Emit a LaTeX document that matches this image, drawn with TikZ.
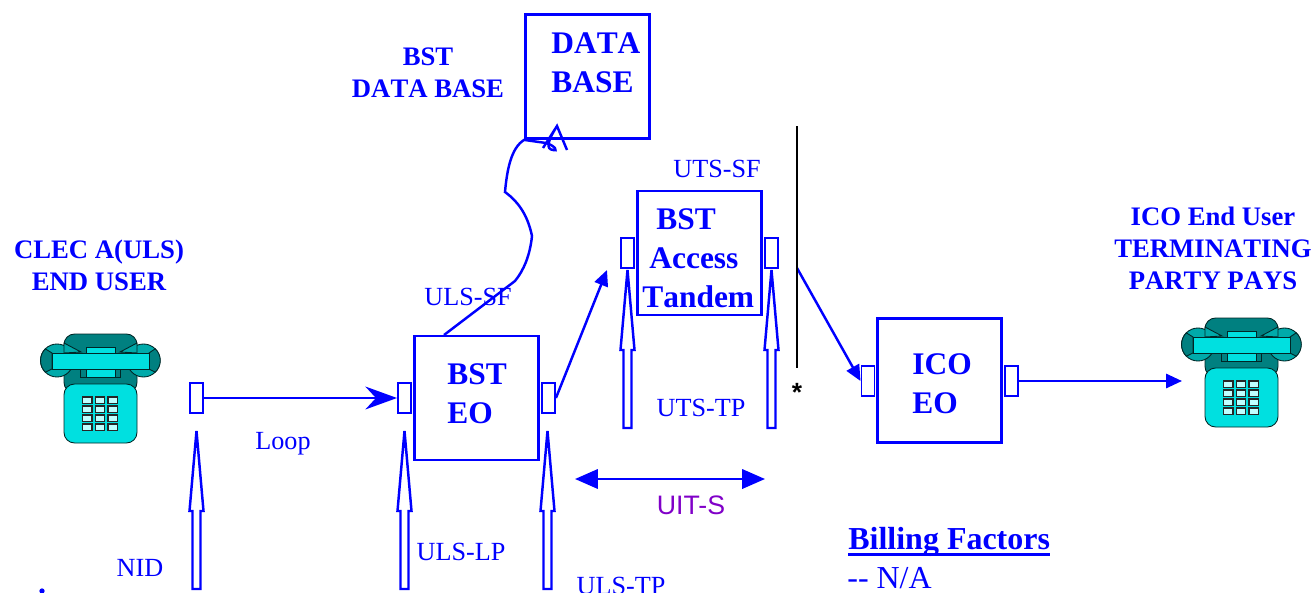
\documentclass[tikz,border=0pt]{standalone}
\usepackage{fontspec}
\setmainfont[Kerning=Off]{Liberation Serif}
\newfontfamily\uitfont{Liberation Sans}
\usetikzlibrary{arrows.meta}
\definecolor{linkblue}{RGB}{0,0,255}
\definecolor{phonecyan}{RGB}{0,224,224}
\definecolor{phonemid}{RGB}{0,170,170}
\definecolor{phonedark}{RGB}{0,128,128}
\definecolor{phonekey}{RGB}{190,255,255}
\definecolor{uitpurple}{RGB}{128,0,200}
\tikzset{
  officebox/.style={draw=linkblue, line width=1.6pt, minimum width=2.48cm, minimum height=2.48cm, inner sep=0pt},
  portbox/.style={draw=linkblue, fill=white, line width=1.1pt, minimum width=0.26cm, minimum height=0.59cm, inner sep=0pt},
  link/.style={draw=linkblue, line width=1.4pt},
  filledtip/.style={-{Stealth[length=9pt, width=8pt, inset=0pt]}},
  headtext/.style={text=linkblue, font=\bfseries\fontsize{15.2}{18.2}\selectfont, align=center, inner sep=0pt},
  boxtext/.style={text=linkblue, font=\bfseries\fontsize{17.9}{22.2}\selectfont, align=left, inner sep=0pt},
  smalltext/.style={text=linkblue, font=\fontsize{14.9}{18}\selectfont, inner sep=0pt},
  phoneline/.style={draw=black!70!phonedark, line width=0.5pt},
  uparrow/.pic={
    \draw[link] (0,0) -- (7,80) -- (4,80) -- (4,158) -- (-4,158) -- (-4,80) -- (-7,80) -- cycle;
  },
  phone/.pic={
    \draw[phoneline, fill=phonedark, rounded corners=6pt] (24,1) rectangle (97,60);
    \draw[phoneline, fill=phonemid] (17,27.5) circle (16.5);
    \draw[phoneline, fill=phonemid] (103.5,27.5) circle (16.5);
    \draw[phoneline, fill=phonemid] (24,10) -- (41,19) -- (24,20) -- cycle;
    \draw[phoneline, fill=phonemid] (97,10) -- (80,19) -- (97,20) -- cycle;
    \draw[phoneline, fill=phonedark] (12,20) -- (5.3,15.8) .. controls (-1,22) and (-1,33) .. (5.3,39.2) -- (12,36) -- cycle;
    \draw[phoneline, fill=phonedark] (109,20) -- (115.2,15.8) .. controls (122,22) and (122,33) .. (115.2,39.2) -- (109,36) -- cycle;
    \draw[phoneline, fill=phonecyan] (46,14) rectangle (75,44);
    \draw[phoneline, fill=phonecyan] (12,20) rectangle (109,36);
    \draw[phoneline, fill=phonedark] (40,36) rectangle (46,44);
    \draw[phoneline, fill=phonedark] (75,36) rectangle (80,44);
    \draw[phoneline, fill=phonecyan, rounded corners=6pt] (24,51) rectangle (97,110);
    \foreach \col in {0,1,2} {
      \foreach \row in {0,1,2,3} {
        \draw[draw=black!85, line width=0.7pt, fill=phonekey] (42.5+\col*12.7,64+\row*9) rectangle +(9.5,6.5);
      }
    }
  },
}
\begin{document}
\begin{tikzpicture}[x=0.02cm, y=-0.02cm]
    \useasboundingbox (0,0) rectangle (1312,592);
    \clip (0,0) rectangle (1312,592);
    % offices
    \node[officebox] (database) at (587.5,76.5) {};
    \node[officebox] (eo) at (476.5,398) {};
    \node[officebox] (tandem) at (699.5,253) {};
    \node[officebox] (icoeo) at (939.5,380.5) {};
    % ports
    \node[portbox] (nid) at (196.5,398) {};
    \node[portbox] (eoleft) at (404.5,398) {};
    \node[portbox] (eoright) at (548.5,398) {};
    \node[portbox] (tandemleft) at (627.5,253) {};
    \node[portbox] (tandemright) at (771.5,253) {};
    \node[portbox] (icoleft) at (868,381) {};
    \node[portbox] (icoright) at (1011.5,381) {};
    % phones
    \pic at (40,333) {phone};
    \pic at (1181,317) {phone};
    % hollow arrows
    \pic at (196.5,431) {uparrow};
    \pic at (404.5,431) {uparrow};
    \pic at (547.5,431) {uparrow};
    \pic at (627.5,270) {uparrow};
    \pic at (771.5,270) {uparrow};
    % free ends
    \coordinate (tandemin) at (607,270);
    \coordinate (tandemout) at (797,268);
    \coordinate (phonein) at (1182,381);
    \coordinate (uitl) at (575,479);
    \coordinate (uitr) at (765,479);
    \coordinate (wallt) at (797,126);
    \coordinate (wallb) at (797,368);
    % connectors
    \draw[link, -{Stealth[length=18pt, width=13pt, inset=6pt]}] (nid) -- (eoleft);
    \draw[link, filledtip] (eoright.east) -- (tandemin);
    \draw[link, filledtip] (tandemout) -- (icoleft.west);
    \draw[link, filledtip] (icoright) -- (phonein);
    \draw[link, {Stealth[length=13pt, width=11pt, inset=0pt]}-{Stealth[length=13pt, width=11pt, inset=0pt]}] (uitl) -- (uitr);
    \draw[black, line width=1.5pt] (wallt) -- (wallb);
    \draw[link] (444,335) -- (515,281)
      .. controls (524,270) and (530,255) .. (532,236)
      .. controls (528,217) and (520,203) .. (505,192)
      .. controls (507,170) and (511,148) .. (database.south west)
      -- (546,143) .. controls (556,146) and (558,152) .. (553,150)
      .. controls (546,149) and (547,142) .. (557,126) -- (567,150)
      (557,126) -- (543,148);
    % labels
    \node[headtext] (bstdbtext) at (428,73) {BST\\DATA BASE};
    \node[headtext] (cleca) at (99,265) {CLEC A(ULS)\\END USER};
    \node[headtext] (icouser) at (1213,248) {ICO End User\\TERMINATING\\PARTY PAYS};
    \node[boxtext, anchor=west] (dbtext) at (551,62.5) {DATA\\BASE};
    \node[boxtext, anchor=west] (eotext) at (447,393.5) {BST\\EO};
    \node[boxtext, anchor=west] (tandemtext) at (642,258.5) {\hspace*{8pt}BST\\\hspace*{4pt}Access\\Tandem};
    \node[boxtext, anchor=west] (icotext) at (912,383.5) {ICO\\EO};
    \node[smalltext] (uts-sf) at (717,169) {UTS-SF};
    \node[smalltext] (uls-sf) at (468,297) {ULS-SF};
    \node[smalltext] (uts-tp) at (701,408) {UTS-TP};
    \node[smalltext] (looptext) at (283,444) {Loop};
    \node[smalltext] (nidtext) at (140,568) {NID};
    \node[smalltext] (uls-lp) at (461,552) {ULS-LP};
    \node[smalltext] (uls-tp) at (621,586) {ULS-TP};
    \node[text=uitpurple, font=\uitfont\fontsize{15.2}{18}\selectfont, inner sep=0pt] (uit-s) at (691,505) {UIT-S};
    \node[font=\uitfont\bfseries\fontsize{15}{18}\selectfont, inner sep=0pt] (star) at (797,392) {*};
    \node[text=linkblue, font=\bfseries\fontsize{18.2}{22}\selectfont, anchor=base west, inner sep=0pt] (billing) at (848,549) {Billing Factors};
    \draw[link, line width=2pt] ([yshift=-3.2pt]billing.base west) -- ([yshift=-3.2pt]billing.base east);
    \node[text=linkblue, font=\fontsize{18.2}{20}\selectfont, anchor=base west, inner sep=0pt] (na) at (847,588) {-{}- N/A};
    \node[circle, fill=linkblue, inner sep=0pt, minimum size=3pt] (dot) at (42,591) {};
\end{tikzpicture}
\end{document}
